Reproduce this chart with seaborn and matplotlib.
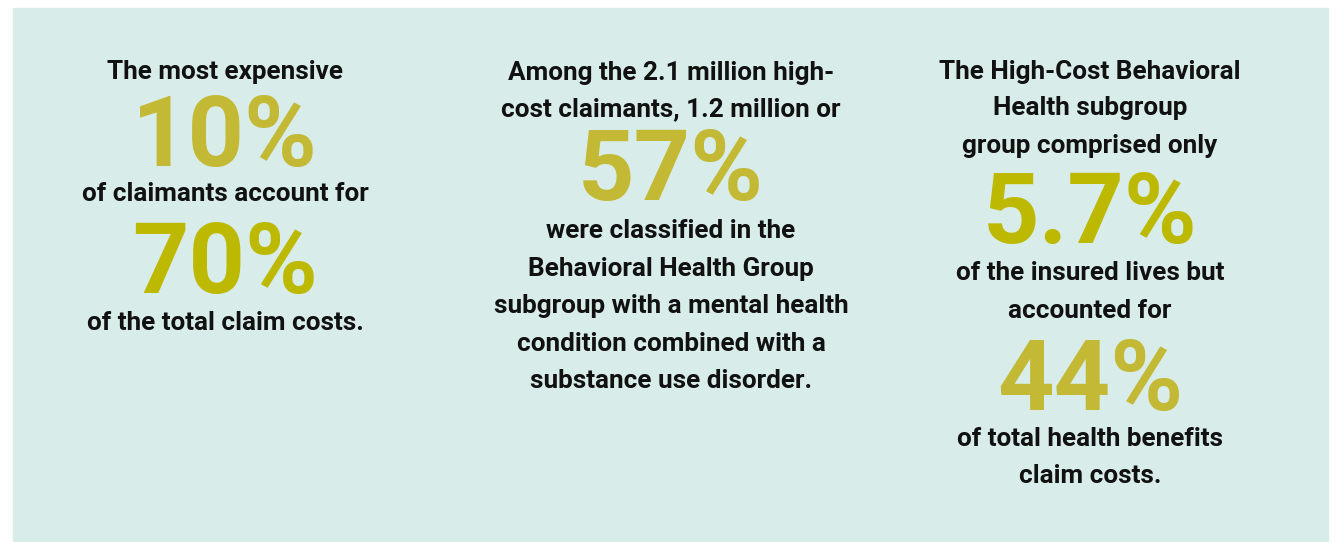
"""
Three-column stat callout: high-cost claimants and behavioral health share.
"""

import matplotlib.pyplot as plt
import seaborn as sns
from matplotlib.patches import Rectangle

W, H = 1339, 542

BG_PANEL = "#d8edea"
OLIVE_SOFT = "#c3b935"
OLIVE_STRONG = "#bdb900"

# column 1
col1_lines = ["The most expensive", "of claimants account for",
              "of the total claim costs."]
col1_stats = ["10%", "70%"]

# column 2
col2_lines = ["Among the 2.1 million high-", "cost claimants, 1.2 million or",
              "were classified in the", "Behavioral Health Group",
              "subgroup with a mental health", "condition combined with a",
              "substance use disorder."]
col2_stats = ["57%"]

# column 3
col3_lines = ["The High-Cost Behavioral", "Health subgroup",
              "group comprised only", "of the insured lives but",
              "accounted for", "of total health benefits", "claim costs."]
col3_stats = ["5.7%", "44%"]

sns.set_theme(style="white")
plt.rcParams["font.family"] = ["Roboto", "DejaVu Sans"]

fig = plt.figure(figsize=(W / 100, H / 100), dpi=100)
ax = fig.add_axes([0, 0, 1, 1])
ax.set_xlim(0, W)
ax.set_ylim(H, 0)
ax.axis("off")

ax.add_patch(Rectangle((13, 8), 1315, 540, color=BG_PANEL, zorder=0))

SMALL = 18.8
BIG = 71


def line(x, y, s):
    ax.text(x, y, s, ha="center", va="baseline", fontsize=SMALL,
            fontweight="bold", color="#111111")


def stat(x, y, s, color):
    ax.text(x, y, s, ha="center", va="baseline", fontsize=BIG,
            fontweight="bold", color=color)


# column 1
x1 = 225
line(x1, 79, col1_lines[0])
stat(x1, 166, col1_stats[0], OLIVE_SOFT)
line(x1, 201, col1_lines[1])
stat(x1, 293, col1_stats[1], OLIVE_STRONG)
line(x1, 330, col1_lines[2])

# column 2
x2 = 671
line(x2, 80, col2_lines[0])
line(x2, 116, col2_lines[1])
stat(x2, 200, col2_stats[0], OLIVE_SOFT)
for y, s in zip([238, 276, 313, 351, 388], col2_lines[2:]):
    line(x2, y, s)

# column 3
x3 = 1090
for y, s in zip([79, 115, 153], col3_lines[:3]):
    line(x3, y, s)
stat(x3, 243, col3_stats[0], OLIVE_STRONG)
line(x3, 280, col3_lines[3])
line(x3, 318, col3_lines[4])
stat(x3, 410, col3_stats[1], OLIVE_SOFT)
line(x3, 446, col3_lines[5])
line(x3, 483, col3_lines[6])

fig.savefig("out.png", dpi=100, facecolor="white")
